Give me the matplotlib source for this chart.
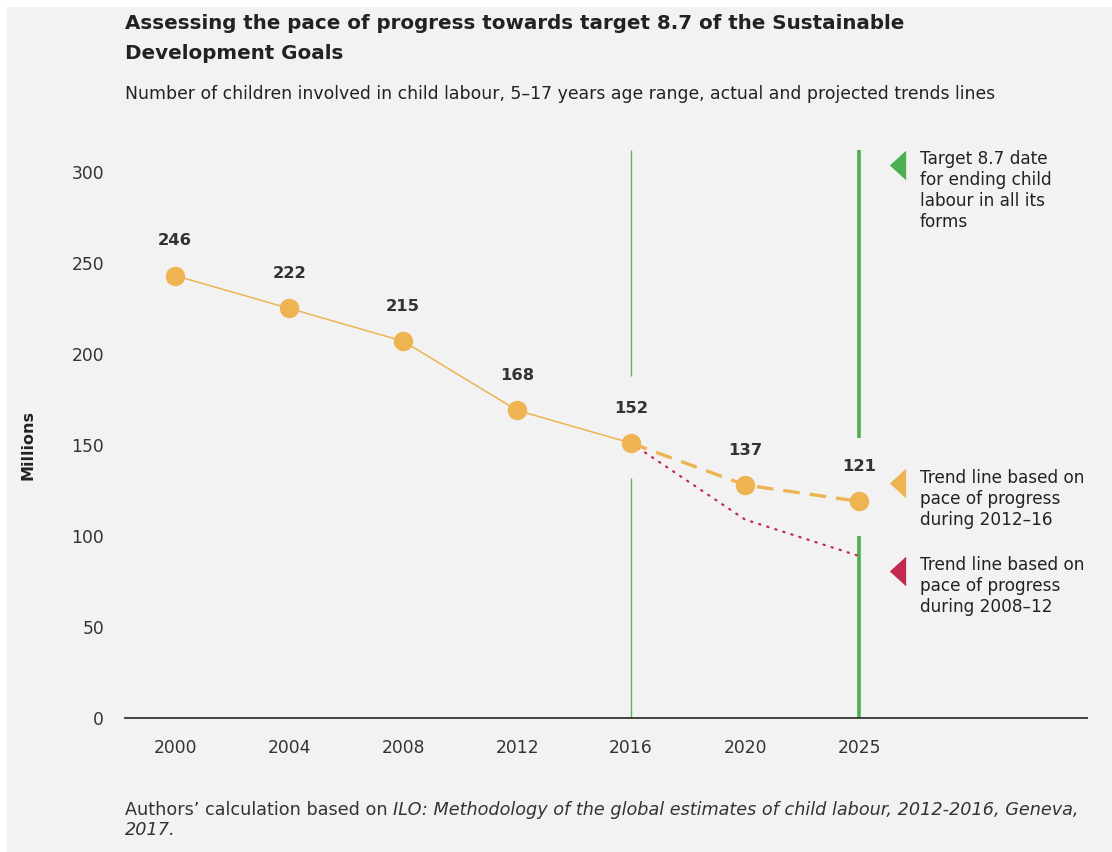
import matplotlib.pyplot as plt
from matplotlib.patches import Rectangle

# data
years = ['2000', '2004', '2008', '2012', '2016', '2020', '2025']
actual = [243, 225, 207, 169, 151]            # 2000-2016 (plotted positions)
trend_1216 = [151, 128, 119]                    # 2016, 2020, 2025
trend_0812 = [151, 109, 89]                     # 2016, 2020, 2025
value_labels = ['246', '222', '215', '168', '152', '137', '121']

orange = '#EDB451'
green = '#4CAF50'
red = '#C2294F'
grey_txt = '#333333'

plt.rcParams['font.family'] = ['DejaVu Sans']

fig = plt.figure(figsize=(11.12, 8.52), dpi=100, facecolor='white')
fig.patches.append(Rectangle((7 / 1112, 0), 1, 845 / 852, transform=fig.transFigure,
                             facecolor='#F2F2F2', edgecolor='none', zorder=-10))

ax = fig.add_axes([125 / 1112, 134 / 852, 962 / 1112, 568 / 852])
ax.set_facecolor('none')

x = list(range(len(years)))
ax.set_xlim(-0.44, 8.0)
ax.set_ylim(0, 312)

# target / reference vertical lines (with gaps around labels)
ax.vlines([x[4], x[4]], [0, 188], [132, 312], color='#55B855', lw=1.0, zorder=1)
ax.vlines([x[6], x[6]], [0, 154], [100, 312], color=green, lw=2.6, zorder=1)

# actual line
ax.plot(x[:5], actual, color=orange, lw=1.1, zorder=2)
# projections
ax.plot(x[4:], trend_0812, color=red, lw=1.6, linestyle=(0, (0.6, 3.2)),
        dash_capstyle='round', zorder=2)
ax.plot(x[4:], trend_1216, color=orange, lw=2.4, linestyle=(0, (5, 3)), zorder=2)
points = actual + trend_1216[1:]
ax.plot(x, points, linestyle='none', marker='o', ms=13, color=orange, zorder=3)

for xi, yi, lab in zip(x, points, value_labels):
    ax.annotate(lab, (xi, yi), xytext=(0, 25), textcoords='offset points',
                ha='center', va='center', fontsize=11.8, fontweight='bold',
                color=grey_txt)

# axes styling
for s in ['top', 'right', 'left']:
    ax.spines[s].set_visible(False)
ax.spines['bottom'].set_color('#333333')
ax.spines['bottom'].set_linewidth(1.3)
ax.set_xticks(x)
ax.set_xticklabels(years)
ax.set_yticks(range(0, 301, 50))
ax.tick_params(axis='both', length=0, labelsize=12.3, labelcolor=grey_txt)
ax.tick_params(axis='x', pad=15)
ax.tick_params(axis='y', pad=15)
fig.text(28 / 1112, 1 - 445 / 852, 'Millions', rotation=90, ha='center', va='center',
         fontsize=11.5, fontweight='bold', color='#222222')

# side annotations
tri = [(0.55, 1), (-0.55, 0), (0.55, -1)]
notes = [
    (304, green, 'Target 8.7 date\nfor ending child\nlabour in all its\nforms'),
    (129, orange, 'Trend line based on\npace of progress\nduring 2012\u201316'),
    (81, red, 'Trend line based on\npace of progress\nduring 2008\u201312'),
]
for ny, col, txt in notes:
    ax.plot([6.34], [ny], marker=tri, ms=20, color=col, clip_on=False, zorder=3)
    ax.text(6.535, ny + 8, txt, ha='left', va='top', fontsize=12.2, color='#222222',
            linespacing=1.22, transform=ax.transData)

# titles
fig.text(125 / 1112, 1 - 14 / 852,
         'Assessing the pace of progress towards target 8.7 of the Sustainable\nDevelopment Goals',
         ha='left', va='top', fontsize=14.3, fontweight='bold', color='#222222',
         linespacing=1.72)
fig.text(125 / 1112, 1 - 94 / 852,
         'Number of children involved in child labour, 5\u201317 years age range, actual and projected trends lines',
         ha='left', va='center', fontsize=12.4, color='#222222')

# footer with italic source
t1 = fig.text(125 / 1112, 1 - 810 / 852, "Authors\u2019 calculation based on ",
              ha='left', va='center', fontsize=12.7, color='#333333')
fig.canvas.draw()
bb = t1.get_window_extent(renderer=fig.canvas.get_renderer())
fig.text(bb.x1 / fig.bbox.width, 1 - 810 / 852,
         'ILO: Methodology of the global estimates of child labour, 2012-2016, Geneva,',
         ha='left', va='center', fontsize=12.7, style='italic', color='#333333')
fig.text(125 / 1112, 1 - 830 / 852, '2017.', ha='left', va='center', fontsize=12.7,
         style='italic', color='#333333')

fig.savefig('out.png', dpi=100, facecolor=fig.get_facecolor())
